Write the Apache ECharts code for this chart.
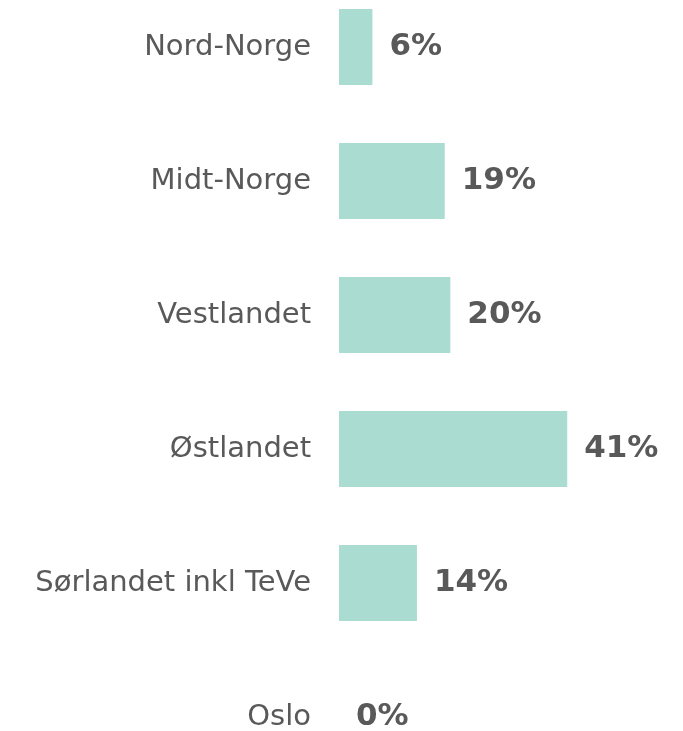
<!DOCTYPE html>
<html>
  <head>
    <meta charset="utf-8">
    <style>
      html, body { margin: 0; padding: 0; background: #fff; }
      #chart { width: 683px; height: 731px; }
    </style>
  </head>
  <body>
    <div id="chart"></div>
    <script src="https://cdn.jsdelivr.net/npm/echarts@6.0.0/dist/echarts.min.js"></script>
    <script>
      const regions = ['Nord-Norge', 'Midt-Norge', 'Vestlandet', 'Østlandet', 'Sørlandet inkl TeVe', 'Oslo'];
      const shares = [6, 19, 20, 41, 14, 0];

      const chart = echarts.init(document.getElementById('chart'));
      chart.setOption({
        animation: false,
        textStyle: { fontFamily: 'DejaVu Sans' },
        grid: { left: 339, top: -20, width: 334, height: 804, outerBoundsMode: 'none' },
        xAxis: {
          type: 'value',
          min: 0,
          max: 60,
          show: false
        },
        yAxis: {
          type: 'category',
          inverse: true,
          data: regions,
          axisLine: { show: false },
          axisTick: { show: false },
          axisLabel: {
            margin: 28,
            fontSize: 29,
            color: '#595959',
            fontFamily: 'DejaVu Sans'
          }
        },
        series: [{
          type: 'bar',
          data: shares,
          barWidth: 76,
          itemStyle: { color: '#aadcd1' },
          label: {
            show: true,
            position: 'right',
            distance: 17,
            formatter: '{c}%',
            fontSize: 31,
            fontWeight: 'bold',
            color: '#595959',
            fontFamily: 'DejaVu Sans'
          }
        }]
      });

      window.addEventListener('resize', () => chart.resize());
    </script>
  </body>
</html>
